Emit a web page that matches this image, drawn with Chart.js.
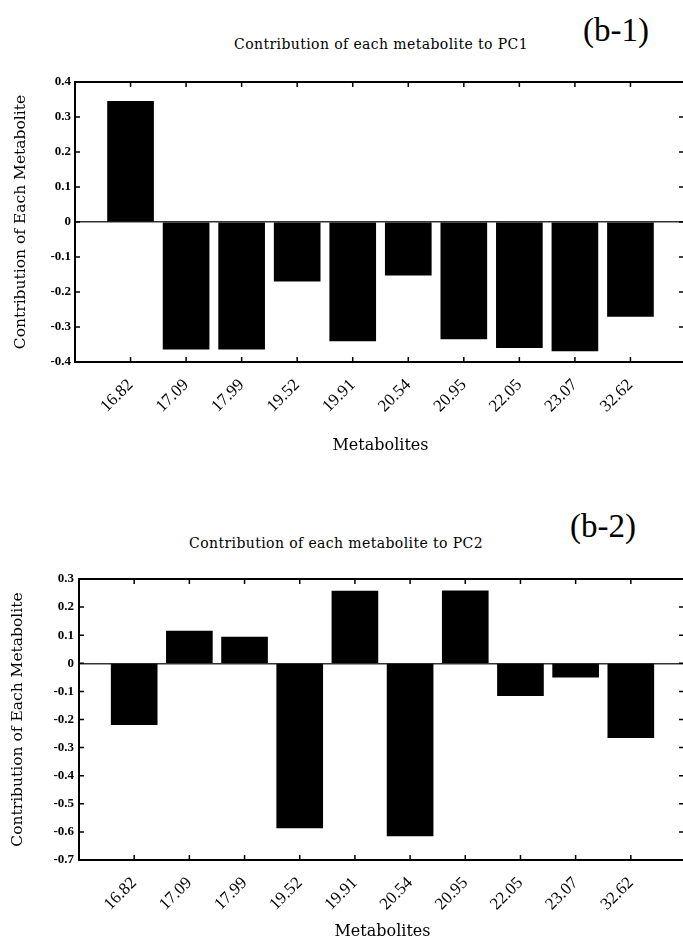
<!DOCTYPE html>
<html>
<head>
<meta charset="utf-8">
<script src="https://cdn.jsdelivr.net/npm/chart.js@4"></script>
<style>
  body { margin: 0; background: #fff; width: 683px; height: 939px; overflow: hidden; position: relative; }
  .box { position: absolute; left: 0; width: 686px; }
  .title { position: absolute; font-family: "DejaVu Serif", serif; font-size: 14px; letter-spacing: 0.4px; color: #000; white-space: nowrap; transform: translate(-50%, -50%); }
  .tag { position: absolute; font-family: "Liberation Serif", serif; font-size: 33px; color: #000; white-space: nowrap; transform: translate(-50%, -50%); }
</style>
</head>
<body>
<div class="title" style="left:381px; top:44px;">Contribution of each metabolite to PC1</div>
<div class="tag" style="left:616px; top:30px;">(b-1)</div>
<div class="title" style="left:336px; top:543px;">Contribution of each metabolite to PC2</div>
<div class="tag" style="left:603px; top:526px;">(b-2)</div>

<div class="box" style="top:0; height:480px;"><canvas id="pc1"></canvas></div>
<div class="box" style="top:470px; height:469px;"><canvas id="pc2"></canvas></div>

<script>
const metabolites = ["16.82", "17.09", "17.99", "19.52", "19.91", "20.54", "20.95", "22.05", "23.07", "32.62"];
const pc1Values = [0.345, -0.363, -0.363, -0.169, -0.34, -0.152, -0.334, -0.359, -0.368, -0.27];
const pc2Values = [-0.218, 0.115, 0.093, -0.586, 0.257, -0.614, 0.258, -0.115, -0.049, -0.265];
const pc1Range = [-0.4, 0.4];
const pc2Range = [-0.7, 0.3];

// blank slot before and after so the bars sit like the MATLAB axes
const labels = [""].concat(metabolites, [""]);

// frame with inward tick marks on all four sides
const framePlugin = {
  id: "frame",
  afterDraw(chart) {
    const { ctx, chartArea: a, scales } = chart;
    ctx.save();
    ctx.strokeStyle = "#000";
    ctx.lineWidth = 2;
    ctx.strokeRect(a.left, a.top, a.right - a.left, a.bottom - a.top);
    ctx.lineWidth = 1.5;
    const t = 5;
    scales.x.ticks.forEach((tk, i) => {
      if (!labels[i]) return;
      const x = scales.x.getPixelForTick(i);
      ctx.beginPath();
      ctx.moveTo(x, a.top); ctx.lineTo(x, a.top + t);
      ctx.moveTo(x, a.bottom); ctx.lineTo(x, a.bottom - t);
      ctx.stroke();
    });
    scales.y.ticks.forEach((tk, i) => {
      const y = scales.y.getPixelForTick(i);
      ctx.beginPath();
      ctx.moveTo(a.left, y); ctx.lineTo(a.left + t, y);
      ctx.moveTo(a.right, y); ctx.lineTo(a.right - t - 2, y);
      ctx.stroke();
    });
    ctx.restore();
  }
};

function makeChart(id, values, range, opt) {
  new Chart(document.getElementById(id), {
    type: "bar",
    data: {
      labels: labels,
      datasets: [{
        data: [null].concat(values, [null]),
        backgroundColor: "#000",
        barThickness: 46
      }]
    },
    options: {
      responsive: true,
      maintainAspectRatio: false,
      animation: false,
      layout: { padding: { top: opt.top, left: 0, right: 0, bottom: 0 } },
      plugins: { legend: { display: false }, tooltip: { enabled: false } },
      scales: {
        x: {
          offset: false,
          grid: { display: false, offset: false },
          border: { display: false },
          afterFit: s => {
            s.height = opt.xHeight;
            s.paddingLeft = 0;
            s.paddingRight = 0;
          },
          ticks: {
            autoSkip: false,
            maxRotation: 45,
            minRotation: 45,
            padding: 5,
            color: "#000",
            font: { family: "Liberation Serif", size: 17 }
          },
          title: {
            display: true,
            text: "Metabolites",
            color: "#000",
            font: { family: "DejaVu Serif", size: 16 },
            padding: { top: 0, bottom: opt.xTitlePad }
          }
        },
        y: {
          min: range[0],
          max: range[1],
          afterFit: s => {
            s.width = opt.yWidth;
            s.paddingTop = 0;
            s.paddingBottom = 0;
          },
          border: { display: false },
          grid: {
            drawTicks: false,
            lineWidth: 1.5,
            color: c => (Math.abs(c.tick.value) < 1e-9 ? "#333" : "rgba(0,0,0,0)")
          },
          ticks: {
            stepSize: 0.1,
            padding: opt.yPad,
            color: "#000",
            font: { family: "Liberation Serif", size: 13, weight: "bold" },
            callback: v => String(Math.round(v * 10) / 10)
          },
          title: {
            display: true,
            text: "Contribution of Each Metabolite",
            color: "#000",
            font: { family: "DejaVu Serif", size: 15.5 },
            padding: { top: opt.yTitlePad, bottom: 0 }
          }
        }
      }
    },
    plugins: [framePlugin]
  });
}

makeChart("pc1", pc1Values, pc1Range, { top: 82, xHeight: 118, yWidth: 75, yPad: 4, xTitlePad: 25, yTitlePad: 12 });
makeChart("pc2", pc2Values, pc2Range, { top: 109, xHeight: 79, yWidth: 79, yPad: 5, xTitlePad: -2, yTitlePad: 9 });
</script>
</body>
</html>
